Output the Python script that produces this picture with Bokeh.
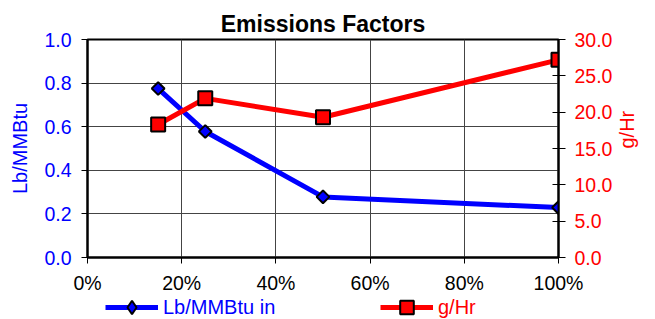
import math
from bokeh.plotting import figure
from bokeh.layouts import column
from bokeh.models import (LinearAxis, Range1d, NumeralTickFormatter, Legend, LegendItem,
                          FixedTicker, ColumnDataSource)
from bokeh.embed import file_html
from bokeh.resources import INLINE

load = [0.15, 0.25, 0.50, 1.00]
lb_mmbtu = [0.775, 0.578, 0.278, 0.229]
g_hr = [18.3, 21.9, 19.3, 27.2]

x_ticks = [0.0, 0.2, 0.4, 0.6, 0.8, 1.0]
left_ticks = [0.0, 0.2, 0.4, 0.6, 0.8, 1.0]
right_ticks = [0, 5, 10, 15, 20, 25, 30]

BLUE = "#0000FF"
RED = "#FF0000"
FONT = "Liberation Sans"
W = 655

p = figure(width=W, height=296, output_backend="svg", toolbar_location=None,
           x_range=Range1d(0, 1), y_range=Range1d(0, 1.0),
           min_border_left=87, min_border_right=97, min_border_top=39, min_border_bottom=39,
           title="Emissions Factors")
p.extra_y_ranges = {"g": Range1d(0, 30)}

p.title.text_font = FONT
p.title.text_font_size = "23px"
p.title.text_font_style = "bold"
p.title.align = "center"
p.title.text_color = "black"
p.title.standoff = 6

p.outline_line_color = "black"
p.outline_line_width = 2
p.background_fill_color = "white"
p.border_fill_color = "white"

xa = p.xaxis[0]
xa.ticker = FixedTicker(ticks=x_ticks)
xa.formatter = NumeralTickFormatter(format="0%")
ya = p.yaxis[0]
ya.ticker = FixedTicker(ticks=left_ticks)
ya.formatter = NumeralTickFormatter(format="0.0")
ya.axis_label = "Lb/MMBtu"

ra = LinearAxis(y_range_name="g", ticker=FixedTicker(ticks=right_ticks),
                formatter=NumeralTickFormatter(format="0.0"), axis_label="g/Hr")
p.add_layout(ra, "right")
try:
    ra.axis_label_orientation = math.pi / 2
except Exception:
    pass

for ax, col in ((xa, "black"), (ya, BLUE), (ra, RED)):
    ax.axis_line_color = "black"
    ax.axis_line_width = 2
    ax.major_tick_line_color = "black"
    ax.major_tick_line_width = 1
    ax.minor_tick_line_color = None
    ax.major_label_text_font = FONT
    ax.major_label_text_font_size = "19.5px"
    ax.major_label_text_color = col
    ax.axis_label_text_font = FONT
    ax.axis_label_text_font_size = "20px"
    ax.axis_label_text_font_style = "normal"
    ax.axis_label_text_color = col

xa.major_tick_in = 0
xa.major_tick_out = 6
xa.major_label_standoff = 8
ya.major_tick_in = 0
ya.major_tick_out = 6
ya.major_label_standoff = 10
ya.axis_label_standoff = 10
ra.major_tick_in = 6
ra.major_tick_out = 7
ra.major_label_standoff = 9
ra.axis_label_standoff = 12

p.xgrid.ticker = FixedTicker(ticks=x_ticks)
p.ygrid.ticker = FixedTicker(ticks=left_ticks)
for g in (p.xgrid[0], p.ygrid[0]):
    g.grid_line_color = "#444444"
    g.grid_line_width = 1

src = ColumnDataSource(dict(x=load, lb=lb_mmbtu, g=g_hr))

def draw(fig, blue_marker, blue_angle, blue_size):
    rl = fig.line("x", "lb", source=src, line_color=BLUE, line_width=5)
    rm = fig.scatter("x", "lb", source=src, marker=blue_marker, angle=blue_angle, size=blue_size,
                     fill_color=BLUE, line_color="black", line_width=2)
    gl = fig.line("x", "g", source=src, y_range_name="g", line_color=RED, line_width=5)
    gm = fig.scatter("x", "g", source=src, y_range_name="g", marker="square", size=14,
                     fill_color=RED, line_color="black", line_width=2)
    return rl, rm, gl, gm

draw(p, "square", math.pi / 4, 9)

# legend strip below the chart
p2 = figure(width=W, height=23, output_backend="svg", toolbar_location=None,
            x_range=Range1d(10, 11), y_range=Range1d(10, 11),
            x_axis_type=None, y_axis_type=None, min_border=0)
p2.extra_y_ranges = {"g": Range1d(1000, 1001)}
p2.outline_line_color = None
p2.xgrid.visible = False
p2.ygrid.visible = False
p2.border_fill_color = "white"
rl, rm, gl, gm = draw(p2, "diamond", 0, 14)

def mk_legend(fig, label, renderers, color, loc):
    lg = Legend(items=[LegendItem(label=label, renderers=renderers)], location=loc,
                orientation="horizontal", glyph_width=53, glyph_height=34,
                label_standoff=5, padding=0, margin=0, spacing=0,
                border_line_color=None, background_fill_alpha=0,
                label_text_font=FONT, label_text_font_size="20px",
                label_text_color=color, label_height=19)
    fig.add_layout(lg, "center")

mk_legend(p2, "Lb/MMBtu in", [rl, rm], BLUE, (18, -5))
mk_legend(p2, "g/Hr", [gl, gm], RED, (293, -5))

layout = column(p, p2, spacing=0)
open("out.html", "w").write(file_html(layout, INLINE))
